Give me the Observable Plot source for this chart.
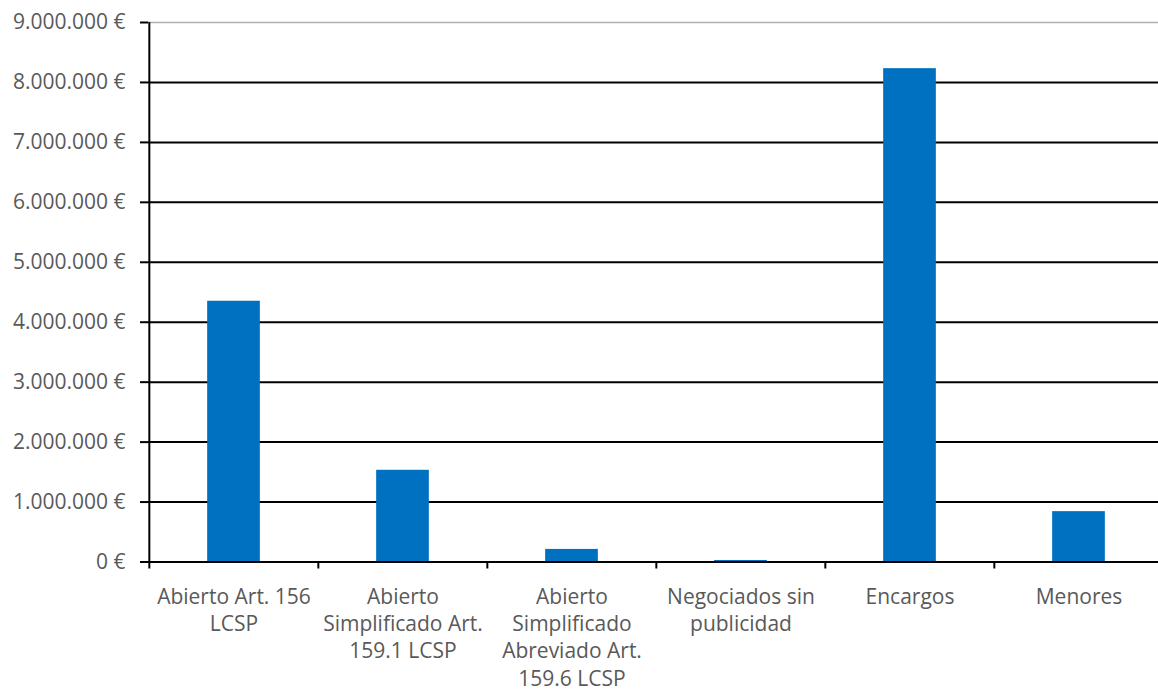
<!DOCTYPE html>
<html>
<head>
<meta charset="utf-8">
<script src="https://cdn.jsdelivr.net/npm/d3@7"></script>
<script src="https://cdn.jsdelivr.net/npm/@observablehq/plot@0.6"></script>
<style>
  html, body { margin: 0; padding: 0; background: #fff; overflow: hidden; }
</style>
</head>
<body>
<div id="chart"></div>
<script>
const categories = [
  "Abierto Art. 156 LCSP",
  "Abierto Simplificado Art. 159.1 LCSP",
  "Abierto Simplificado Abreviado Art. 159.6 LCSP",
  "Negociados sin publicidad",
  "Encargos",
  "Menores"
];
const labels = [
  "Abierto Art. 156\nLCSP",
  "Abierto\nSimplificado Art.\n159.1 LCSP",
  "Abierto\nSimplificado\nAbreviado Art.\n159.6 LCSP",
  "Negociados sin\npublicidad",
  "Encargos",
  "Menores"
];
const values = [4350000, 1530000, 210000, 25000, 8230000, 840000];
const yTicks = [0, 1000000, 2000000, 3000000, 4000000, 5000000, 6000000, 7000000, 8000000, 9000000];

const data = categories.map((c, i) => ({category: c, label: labels[i], value: values[i]}));

const W = 1158, H = 690;
const mL = 148, mR = -6, mT = 22, mB = 128.5;
const step = (W - mL - mR) / categories.length;
const barW = 53;
const inset = (step - barW) / 2;

const euro = d3.formatLocale({decimal: ",", thousands: ".", grouping: [3], currency: ["", " €"]}).format("$,");

const chart = Plot.plot({
  width: W,
  height: H,
  marginLeft: mL,
  marginRight: mR,
  marginTop: mT,
  marginBottom: mB,
  style: {fontFamily: "'Open Sans', sans-serif", fontSize: "21px", color: "#595959", background: "#fff", overflow: "visible"},
  x: {domain: categories, padding: 0, axis: null, label: null},
  y: {domain: [0, 9000000], axis: null, label: null},
  marks: [
    Plot.ruleY(yTicks.filter(d => d > 0 && d < 9000000), {stroke: "black", strokeWidth: 2}),
    Plot.ruleY([9000000], {stroke: "#b0b0b0", strokeWidth: 1.5}),
    Plot.barY(data, {x: "category", y: "value", fill: "#0070C0", insetLeft: inset, insetRight: inset}),
    Plot.ruleY([0], {stroke: "black", strokeWidth: 2}),
    Plot.ruleX([categories[0]], {dx: -step / 2, stroke: "black", strokeWidth: 2}),
    Plot.axisX({label: null, tickSize: 7, dx: -step / 2, tickFormat: () => "", stroke: "black", strokeWidth: 2, strokeOpacity: 1}),
    Plot.axisY({label: null, ticks: yTicks, tickSize: 8, tickPadding: 15, tickFormat: euro, stroke: "black", strokeWidth: 2, strokeOpacity: 1, fill: "#595959", fontSize: 21}),
    Plot.text(data, {x: "category", y: () => 0, text: "label", lineAnchor: "top", dy: 23, lineHeight: 1.29, fill: "#595959", fontSize: 21})
  ]
});
document.getElementById("chart").appendChild(chart);
</script>
</body>
</html>
